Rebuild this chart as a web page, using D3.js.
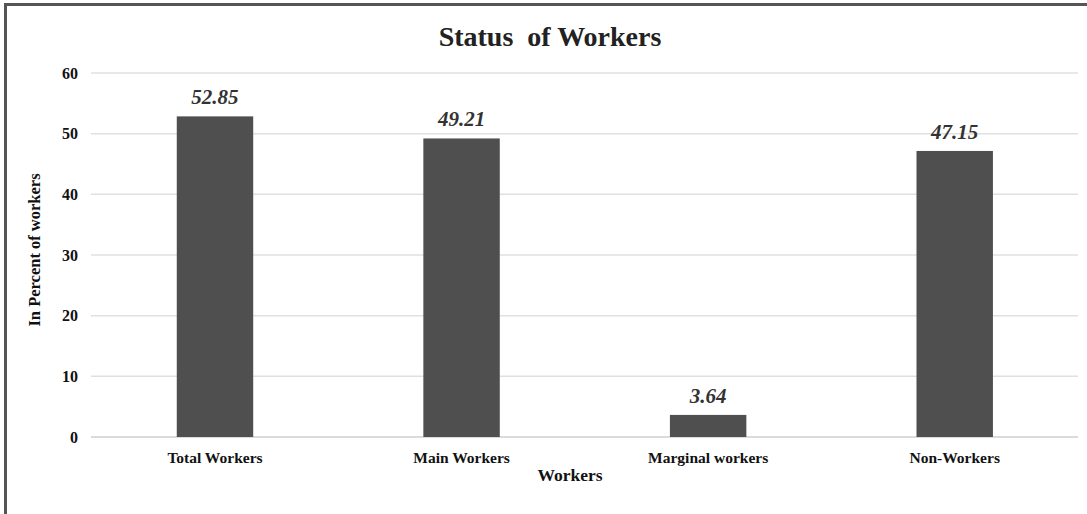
<!DOCTYPE html>
<html>
<head>
<meta charset="utf-8">
<script src="https://cdn.jsdelivr.net/npm/d3@7"></script>
<style>
  body { margin: 0; background: #fff; }
  text { font-family: "Liberation Serif", "Times New Roman", serif; }
</style>
</head>
<body>
<div id="chart"></div>
<script>
// chart data
var categories = ["Total Workers", "Main Workers", "Marginal workers", "Non-Workers"];
var values = [52.85, 49.21, 3.64, 47.15];
var yTicks = [0, 10, 20, 30, 40, 50, 60];

var width = 1087, height = 514;
var svg = d3.select("#chart").append("svg")
    .attr("width", width)
    .attr("height", height);

// outer frame (only top & left visible in the picture)
svg.append("rect")
    .attr("x", 5.5).attr("y", 4.5)
    .attr("width", width + 20).attr("height", height + 20)
    .attr("fill", "none")
    .attr("stroke", "#555")
    .attr("stroke-width", 3);

var xScale = d3.scaleBand()
    .domain(categories)
    .range([91.7, 1078])
    .paddingInner(0.69)
    .paddingOuter(0.345);

var yScale = d3.scaleLinear()
    .domain([0, 60])
    .range([437, 73]);

// gridlines
svg.append("g").selectAll("line").data(yTicks).enter()
    .append("line")
    .attr("x1", 91).attr("x2", 1078)
    .attr("y1", function (d) { return yScale(d); })
    .attr("y2", function (d) { return yScale(d); })
    .attr("stroke", function (d) { return d === 0 ? "#cfcfcf" : "#e0e0e0"; })
    .attr("stroke-width", 1.5);

// y tick labels
svg.append("g").selectAll("text").data(yTicks).enter()
    .append("text")
    .attr("x", 78)
    .attr("y", function (d) { return yScale(d); })
    .attr("dy", "0.35em")
    .attr("text-anchor", "end")
    .attr("font-size", 16)
    .attr("font-weight", "bold")
    .attr("fill", "#111")
    .text(function (d) { return d; });

// bars
svg.append("g").selectAll("rect").data(values).enter()
    .append("rect")
    .attr("x", function (d, i) { return xScale(categories[i]); })
    .attr("y", function (d) { return yScale(d); })
    .attr("width", xScale.bandwidth())
    .attr("height", function (d) { return yScale(0) - yScale(d); })
    .attr("fill", "#4f4f4f");

// value labels
svg.append("g").selectAll("text").data(values).enter()
    .append("text")
    .attr("x", function (d, i) { return xScale(categories[i]) + xScale.bandwidth() / 2; })
    .attr("y", function (d) { return yScale(d) - 12; })
    .attr("text-anchor", "middle")
    .attr("font-size", 21)
    .attr("font-weight", "bold")
    .attr("font-style", "italic")
    .attr("fill", "#333")
    .text(function (d) { return d.toFixed(2); });

// x tick labels
svg.append("g").selectAll("text").data(categories).enter()
    .append("text")
    .attr("x", function (d) { return xScale(d) + xScale.bandwidth() / 2; })
    .attr("y", 463)
    .attr("text-anchor", "middle")
    .attr("font-size", 15.5)
    .attr("font-weight", "bold")
    .attr("fill", "#111")
    .text(function (d) { return d; });

// title
svg.append("text")
    .attr("x", 550).attr("y", 46)
    .attr("text-anchor", "middle")
    .attr("font-size", 28)
    .attr("font-weight", "bold")
    .attr("fill", "#222")
    .attr("xml:space", "preserve")
    .text("Status  of Workers");

// axis titles
svg.append("text")
    .attr("x", 570).attr("y", 481)
    .attr("text-anchor", "middle")
    .attr("font-size", 17.5)
    .attr("font-weight", "bold")
    .attr("fill", "#111")
    .text("Workers");

svg.append("text")
    .attr("transform", "translate(40,250) rotate(-90)")
    .attr("text-anchor", "middle")
    .attr("font-size", 16.5)
    .attr("font-weight", "bold")
    .attr("fill", "#111")
    .text("In Percent of workers");
</script>
</body>
</html>
